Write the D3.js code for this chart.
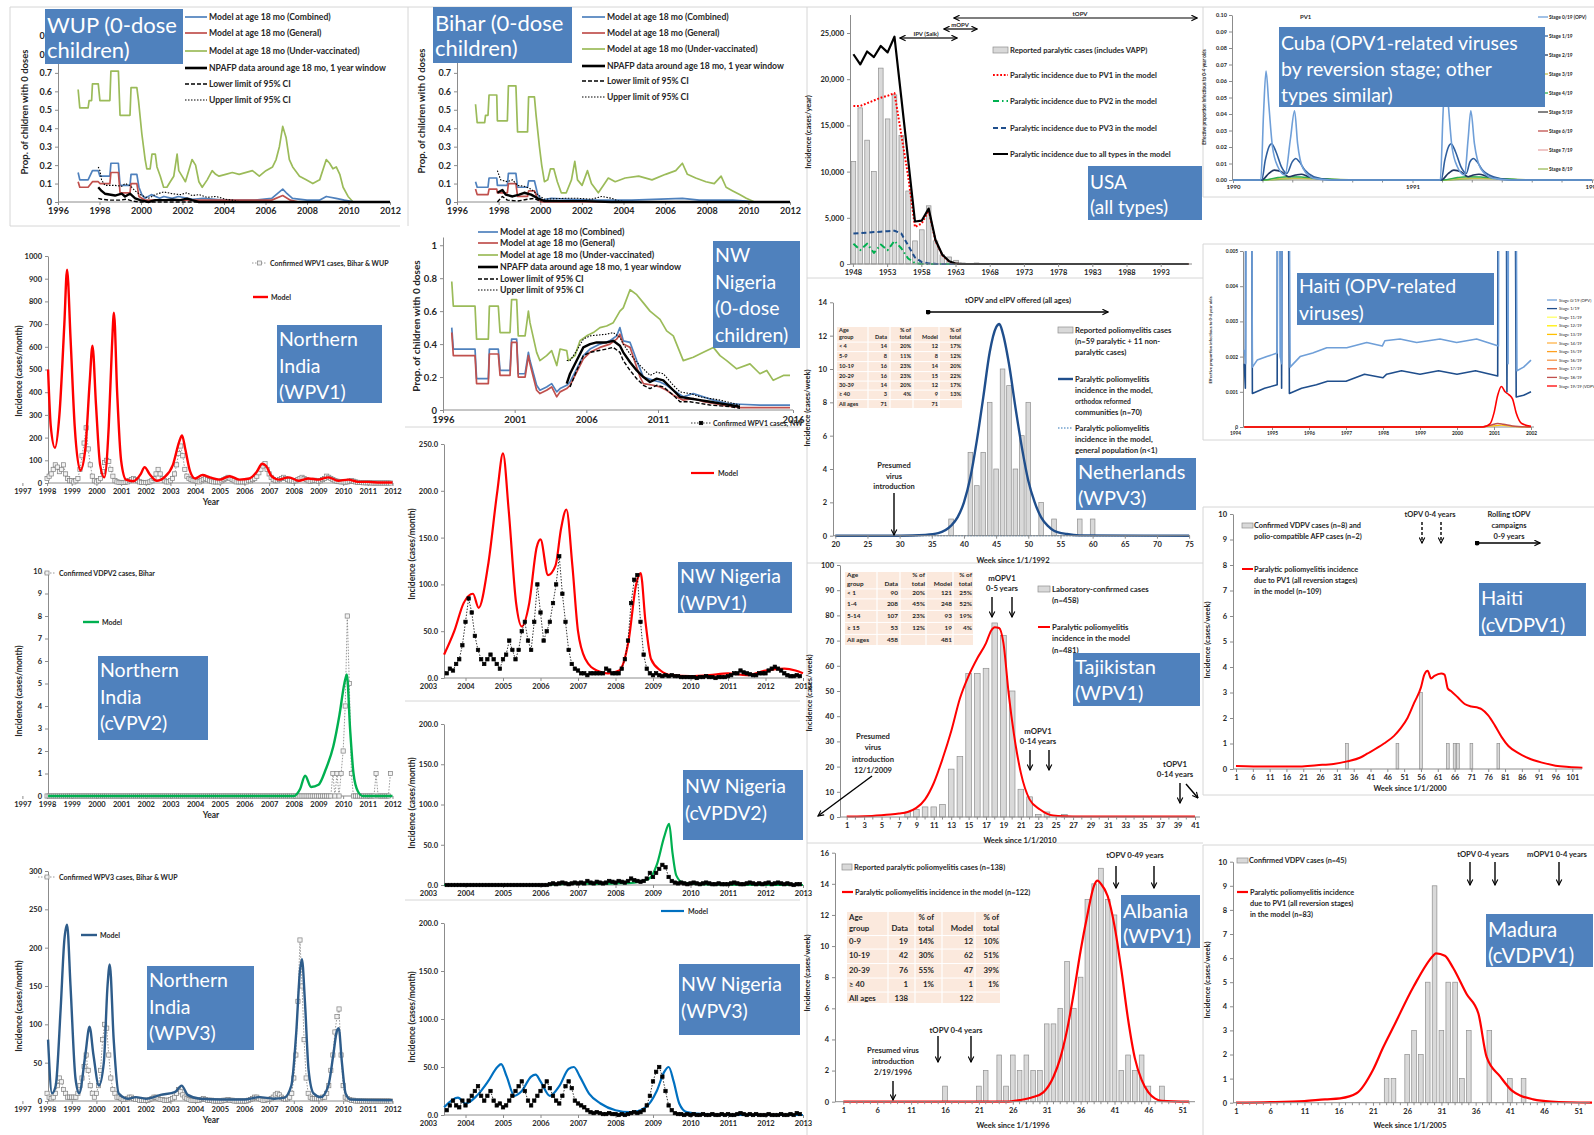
<!DOCTYPE html>
<html>
<head>
<meta charset="utf-8">
<script src="https://cdn.jsdelivr.net/npm/d3@7"></script>
<style>
  body { margin: 0; background: #fff; }
  svg { display: block; }
</style>
</head>
<body>
<script>
/* ================= data ================= */

// --- 0-dose panels (WUP, Bihar, NW Nigeria) ---
const doseLegend = ["Model at age 18 mo (Combined)", "Model at age 18 mo (General)", "Model at age 18 mo (Under-vaccinated)",
  "NPAFP data around age 18 mo, 1 year window", "Lower limit of 95% CI", "Upper limit of 95% CI"];
const doseYears = [1996, 1998, 2000, 2002, 2004, 2006, 2008, 2010, 2012];
const doseTicks = [0, 0.1, 0.2, 0.3, 0.4, 0.5, 0.6, 0.7, 0.8, 0.9];
const biharTicks = [0, 0.1, 0.2, 0.3, 0.4, 0.5, 0.6, 0.7];

const wupUnder = [[1996.97,0.61],[1997.05,0.51],[1997.45,0.51],[1997.5,0.55],[1997.62,0.55],[1997.66,0.64],[1997.94,0.64],[1998.02,0.55],[1998.5,0.55],[1998.55,0.71],[1998.91,0.71],[1998.99,0.47],[1999.47,0.47],[1999.52,0.62],[1999.8,0.62],[1999.88,0.55],[2000.04,0.37],[2000.2,0.23],[2000.28,0.18],[2000.44,0.18],[2000.53,0.26],[2000.69,0.26],[2000.77,0.19],[2000.93,0.14],[2001.09,0.08],[2001.25,0.08],[2001.41,0.11],[2001.58,0.14],[2001.74,0.26],[2001.82,0.17],[2001.98,0.14],[2002.14,0.11],[2002.46,0.23],[2002.63,0.2],[2002.79,0.11],[2002.95,0.08],[2003.19,0.12],[2003.43,0.17],[2003.6,0.15],[2003.76,0.14],[2004.08,0.15],[2004.4,0.16],[2004.73,0.15],[2005.37,0.17],[2005.7,0.14],[2006.02,0.17],[2006.34,0.19],[2006.51,0.23],[2006.67,0.3],[2006.83,0.41],[2006.99,0.35],[2007.15,0.23],[2007.31,0.19],[2007.64,0.14],[2007.96,0.12],[2008.28,0.1],[2008.61,0.12],[2008.93,0.23],[2009.09,0.21],[2009.25,0.18],[2009.41,0.19],[2009.58,0.15],[2009.74,0.08],[2009.98,0.03],[2010.22,0],[2012,0]];
const wupComb = [[1996.97,0.16],[1997.05,0.12],[1997.45,0.12],[1997.66,0.17],[1997.94,0.17],[1998.02,0.14],[1998.5,0.14],[1998.55,0.21],[1998.91,0.21],[1998.99,0.09],[1999.47,0.09],[1999.52,0.15],[1999.8,0.15],[1999.9,0.08],[2000.04,0.04],[2000.2,0.02],[2000.5,0.04],[2000.9,0.02],[2001.1,0.03],[2001.5,0.02],[2001.8,0.03],[2002.5,0.015],[2003,0.02],[2004,0.01],[2005.5,0.01],[2006.3,0.02],[2006.83,0.07],[2007,0.05],[2007.3,0.02],[2008,0.01],[2008.6,0.01],[2008.93,0.03],[2009.4,0.02],[2009.8,0.01],[2010.3,0],[2012,0]];
const wupGen = [[1996.97,0.11],[1997.05,0.08],[1997.45,0.08],[1997.66,0.11],[1997.94,0.11],[1998.02,0.1],[1998.5,0.1],[1998.55,0.16],[1998.91,0.16],[1998.99,0.05],[1999.47,0.05],[1999.52,0.1],[1999.8,0.1],[1999.9,0.03],[2000.2,0.01],[2006.3,0.01],[2006.83,0.035],[2007.2,0.01],[2007.6,0],[2012,0]];
const wupData = [[1997.94,0.08],[1998.1,0.06],[1998.26,0.045],[1998.75,0.035],[1999.07,0.045],[1999.23,0.03],[1999.47,0.045],[1999.72,0.02],[1999.96,0.01],[2000.36,0],[2000.69,0.01],[2001.17,0.01],[2001.5,0.013],[2001.9,0.01],[2002.22,0.018],[2002.46,0.01],[2002.79,0],[2012,0]];
const wupLow = [[1997.94,0.02],[1998.1,0.015],[1998.5,0.01],[1998.99,0.01],[1999.3,0.015],[1999.6,0.005],[1999.96,0],[2003.43,0]];
const wupUp = [[1997.94,0.19],[1998.02,0.17],[1998.1,0.12],[1998.26,0.09],[1998.75,0.09],[1999.07,0.085],[1999.23,0.1],[1999.47,0.09],[1999.72,0.06],[1999.96,0.04],[2000.36,0.02],[2000.69,0.04],[2001.09,0.055],[2001.5,0.045],[2001.9,0.04],[2002.22,0.05],[2002.46,0.035],[2002.79,0.04],[2003.19,0.025],[2003.6,0.03],[2004.08,0.015],[2004.4,0.01],[2004.8,0]];

const biharUnder = [[1996.89,0.53],[1996.97,0.43],[1997.33,0.43],[1997.37,0.47],[1997.49,0.47],[1997.54,0.58],[1997.91,0.58],[1997.94,0.44],[1998.42,0.44],[1998.47,0.63],[1998.83,0.63],[1998.91,0.38],[1999.39,0.38],[1999.44,0.57],[1999.72,0.57],[1999.8,0.47],[1999.96,0.3],[2000.07,0.2],[2000.2,0.11],[2000.36,0.12],[2000.49,0.18],[2000.65,0.18],[2000.82,0.11],[2001.01,0.05],[2001.25,0.05],[2001.5,0.12],[2001.66,0.22],[2001.79,0.12],[2002.01,0.09],[2002.27,0.17],[2002.46,0.1],[2002.79,0.05],[2003.03,0.09],[2003.27,0.13],[2003.6,0.11],[2004.08,0.13],[2004.73,0.14],[2005.37,0.12],[2006.02,0.15],[2006.51,0.17],[2006.83,0.21],[2007.07,0.15],[2007.47,0.13],[2007.96,0.11],[2008.36,0.1],[2008.69,0.14],[2008.93,0.08],[2009.25,0.06],[2009.58,0.04],[2009.9,0.02],[2010.3,0],[2012,0]];
const biharComb = [[1996.89,0.11],[1996.97,0.08],[1997.49,0.08],[1997.54,0.13],[1997.91,0.13],[1997.94,0.09],[1998.42,0.09],[1998.47,0.155],[1998.83,0.155],[1998.91,0.08],[1999.39,0.08],[1999.44,0.115],[1999.72,0.115],[1999.88,0.04],[2000.07,0.01],[2000.53,0.02],[2001.5,0.015],[2002.79,0.01],[2004.4,0.01],[2006.83,0.02],[2007.64,0.01],[2009.25,0.01],[2009.9,0.005],[2010.3,0],[2012,0]];
const biharGen = [[1996.89,0.07],[1996.97,0.04],[1997.49,0.04],[1997.54,0.07],[1997.91,0.07],[1997.94,0.05],[1998.42,0.05],[1998.47,0.1],[1998.83,0.1],[1998.91,0.03],[1999.39,0.03],[1999.44,0.06],[1999.72,0.06],[1999.88,0.015],[2000.07,0],[2012,0]];
const biharData = [[1997.94,0.05],[1998.18,0.065],[1998.34,0.04],[1998.67,0.03],[1998.99,0.04],[1999.23,0.05],[1999.56,0.04],[1999.88,0.02],[2000.2,0.005],[2001.17,0.005],[2002.14,0.005],[2003.43,0],[2012,0]];
const biharLow = [[1997.94,0],[1998.18,0.03],[1998.42,0.01],[1998.91,0.005],[1999.39,0.015],[1999.72,0.02],[2000.04,0]];
const biharUp = [[1997.94,0.17],[1998.1,0.12],[1998.42,0.11],[1998.67,0.12],[1998.91,0.09],[1999.23,0.085],[1999.56,0.07],[1999.88,0.04],[2000.2,0.015],[2001.17,0.02],[2001.82,0.02],[2002.46,0.015],[2002.95,0.03],[2003.43,0.02],[2003.76,0.005],[2004.4,0]];

const nwDoseYears = [1996, 2001, 2006, 2011, 2016];
const nwDoseTicks = [0, 0.2, 0.4, 0.6, 0.8, 1];
const nwUnder = [[1996.5,0.78],[1996.59,0.63],[1997.83,0.63],[1997.92,0.43],[1998.59,0.43],[1998.65,0.63],[1999.16,0.63],[1999.26,0.47],[1999.83,0.47],[1999.92,0.67],[2000.21,0.67],[2000.3,0.45],[2000.69,0.45],[2000.88,0.6],[2000.97,0.53],[2001.35,0.35],[2001.54,0.3],[2001.92,0.33],[2002.21,0.36],[2002.5,0.27],[2002.69,0.37],[2003.07,0.36],[2003.16,0.3],[2003.54,0.33],[2003.83,0.42],[2004.21,0.45],[2004.59,0.47],[2004.97,0.5],[2005.35,0.51],[2005.73,0.53],[2006.11,0.6],[2006.3,0.62],[2006.69,0.73],[2007.07,0.7],[2007.45,0.65],[2007.83,0.6],[2008.4,0.55],[2008.78,0.48],[2009.16,0.45],[2009.73,0.3],[2010.3,0.32],[2010.88,0.35],[2011.45,0.38],[2011.83,0.33],[2012.21,0.3],[2012.78,0.25],[2013.54,0.28],[2014.11,0.22],[2014.5,0.24],[2014.87,0.18],[2015.45,0.21],[2015.83,0.21]];
const nwComb = [[1996.5,0.5],[1996.59,0.37],[1997.83,0.37],[1997.92,0.19],[1998.59,0.19],[1998.65,0.37],[1999.16,0.37],[1999.26,0.24],[1999.83,0.24],[1999.92,0.43],[2000.21,0.43],[2000.3,0.22],[2000.69,0.22],[2000.88,0.35],[2000.97,0.3],[2001.35,0.15],[2001.54,0.12],[2001.92,0.14],[2002.21,0.16],[2002.5,0.11],[2002.69,0.13],[2003.07,0.15],[2003.26,0.17],[2003.64,0.25],[2004.02,0.33],[2004.4,0.37],[2004.97,0.4],[2005.54,0.42],[2005.92,0.45],[2006.11,0.5],[2006.3,0.42],[2006.69,0.41],[2007.07,0.3],[2007.26,0.25],[2007.45,0.2],[2008.02,0.18],[2008.4,0.17],[2008.78,0.15],[2009.16,0.12],[2009.73,0.08],[2010.3,0.1],[2010.88,0.08],[2011.45,0.06],[2012.21,0.04],[2012.97,0.035],[2014.11,0.03],[2015.83,0.03]];
const nwGen = [[1996.5,0.47],[1996.59,0.33],[1997.83,0.33],[1997.92,0.16],[1998.59,0.16],[1998.65,0.34],[1999.16,0.34],[1999.26,0.21],[1999.83,0.21],[1999.92,0.41],[2000.21,0.41],[2000.3,0.2],[2000.69,0.2],[2000.88,0.33],[2000.97,0.28],[2001.35,0.12],[2001.54,0.1],[2001.92,0.12],[2002.21,0.14],[2002.5,0.08],[2002.69,0.11],[2003.07,0.13],[2003.26,0.15],[2003.64,0.23],[2004.02,0.31],[2004.4,0.35],[2004.97,0.38],[2005.54,0.4],[2005.92,0.43],[2006.11,0.46],[2006.3,0.4],[2006.69,0.38],[2007.07,0.26],[2007.26,0.2],[2007.45,0.16],[2008.02,0.15],[2008.4,0.14],[2008.78,0.12],[2009.16,0.09],[2009.73,0.06],[2010.3,0.07],[2010.88,0.05],[2011.45,0.04],[2012.21,0.025],[2012.97,0.015],[2015.83,0.015]];
const nwData = [[2003.07,0.16],[2003.26,0.22],[2003.64,0.3],[2004.02,0.38],[2004.4,0.4],[2004.78,0.41],[2005.35,0.41],[2005.73,0.42],[2006.11,0.39],[2006.3,0.35],[2006.69,0.29],[2007.07,0.24],[2007.45,0.2],[2007.83,0.17],[2008.21,0.19],[2008.59,0.18],[2009.16,0.12],[2009.54,0.08],[2010.11,0.07],[2010.69,0.06],[2011.26,0.05],[2011.83,0.04],[2012.4,0.03],[2012.97,0.02]];
const nwLow = [[2003.26,0.14],[2003.64,0.24],[2004.02,0.33],[2004.4,0.35],[2005.35,0.37],[2005.73,0.38],[2006.11,0.35],[2006.3,0.3],[2006.69,0.24],[2007.07,0.19],[2007.45,0.15],[2007.83,0.13],[2008.21,0.15],[2008.59,0.14],[2009.16,0.09],[2009.54,0.05],[2010.11,0.05],[2010.69,0.04],[2011.26,0.03],[2011.83,0.025],[2012.4,0.02],[2012.97,0.01]];
const nwUp = [[2003.07,0.3],[2003.26,0.3],[2003.64,0.36],[2004.02,0.43],[2004.4,0.45],[2005.35,0.46],[2005.73,0.47],[2006.11,0.44],[2006.3,0.4],[2006.69,0.34],[2007.07,0.29],[2007.45,0.25],[2007.83,0.21],[2008.21,0.23],[2008.59,0.22],[2009.16,0.15],[2009.54,0.11],[2010.11,0.1],[2010.69,0.08],[2011.26,0.07],[2011.83,0.06],[2012.4,0.045],[2012.97,0.03]];

// --- Northern India incidence (monthly cases from Jan 1998) ---
const indiaYears = [1997,1998,1999,2000,2001,2002,2003,2004,2005,2006,2007,2008,2009,2010,2011,2012];
const indiaStart = 1998;
const indiaWpv1Cases = [
  20,30,40,60,80,70,50,60,80,40,20,10,
  10,5,10,20,60,120,176,243,150,80,30,10,
  5,10,20,50,90,100,95,60,30,10,5,3,
  2,2,3,5,10,15,20,15,10,5,3,2,
  2,3,5,10,20,40,60,40,20,10,5,5,
  10,20,40,80,130,163,120,60,30,20,15,10,
  10,8,5,10,15,20,15,10,8,5,5,5,
  5,10,15,20,25,20,15,10,5,5,5,5,
  5,5,10,10,15,20,30,45,60,75,85,60,
  40,25,15,10,10,15,20,25,20,15,10,10,
  8,10,15,20,25,20,15,10,8,10,12,10,
  8,10,15,20,30,25,20,15,10,8,6,5,
  5,4,5,8,10,8,5,3,2,2,1,1,
  1,1,0,0,0,0,0,0,0,0,0,0];
const indiaWpv1Model = [[1998.04,500],[1998.15,250],[1998.32,155],[1998.5,300],[1998.7,700],[1998.81,940],[1998.95,640],[1999.12,250],[1999.35,55],[1999.55,150],[1999.73,450],[1999.84,605],[1999.98,350],[2000.15,80],[2000.32,25],[2000.5,250],[2000.63,600],[2000.71,750],[2000.84,400],[2001.0,100],[2001.2,15],[2001.5,8],[2001.8,40],[2001.95,70],[2002.15,40],[2002.45,10],[2002.75,25],[2003.1,80],[2003.35,180],[2003.47,210],[2003.6,150],[2003.8,50],[2004.0,20],[2004.3,35],[2004.6,25],[2005.0,15],[2005.4,30],[2005.8,15],[2006.2,20],[2006.5,50],[2006.72,85],[2006.88,75],[2007.1,30],[2007.4,15],[2007.8,25],[2008.2,10],[2008.6,20],[2009.0,15],[2009.4,25],[2009.8,10],[2010.2,15],[2010.6,5],[2011.0,5],[2011.5,2],[2012.0,2]];
const indiaCvpv2Cases = [
  0,0,0,0,0,0,0,0,0,0,0,0,
  0,0,0,0,0,0,0,0,0,0,0,0,
  0,0,0,0,0,0,0,0,0,0,0,0,
  0,0,0,0,0,0,0,0,0,0,0,0,
  0,0,0,0,0,0,0,0,0,0,0,0,
  0,0,0,0,0,0,0,0,0,0,0,0,
  0,0,0,0,0,0,0,0,0,0,0,0,
  0,0,0,0,0,0,0,0,0,0,0,0,
  0,0,0,0,0,0,0,0,0,0,0,0,
  0,0,0,0,0,0,0,0,0,0,0,0,
  0,0,0,0,0,0,0,0,0,0,0,0,
  0,0,0,0,0,0,0,1,0,1,0,1,
  2,4,8,5,1,0,0,0,0,0,0,0,
  0,0,0,0,1,0,0,0,0,0,0,1];
const indiaCvpv2Model = [[1998.04,0],[2008.0,0],[2008.25,0.3],[2008.46,0.9],[2008.7,0.4],[2009.0,0.5],[2009.3,1.2],[2009.6,2.2],[2009.85,3.6],[2010.05,5],[2010.15,5.4],[2010.28,3],[2010.42,1],[2010.6,0.2],[2010.8,0],[2012,0]];
const indiaWpv3Cases = [
  10,5,3,5,10,20,30,25,15,10,5,5,
  5,5,5,10,20,30,45,60,40,20,10,5,
  10,20,40,80,100,95,60,30,15,10,5,5,
  3,2,2,3,5,5,3,2,2,1,1,1,
  1,1,2,3,5,5,3,2,2,1,1,1,
  2,3,5,10,15,12,8,5,3,2,1,1,
  1,1,1,2,3,2,1,1,1,0,0,0,
  0,0,1,1,2,1,1,0,0,0,0,0,
  0,0,1,2,3,5,5,3,2,1,1,2,
  2,3,5,8,10,8,5,3,2,3,5,10,
  30,60,130,210,150,80,30,10,5,3,3,3,
  3,3,5,5,10,20,40,60,90,110,120,60,
  20,5,3,2,1,1,0,0,0,0,0,0,
  0,0,0,0,0,0,0,0,0,0,0,0];
const indiaWpv3Model = [[1998.04,80],[1998.2,10],[1998.35,20],[1998.55,120],[1998.7,210],[1998.81,230],[1998.95,150],[1999.15,30],[1999.3,10],[1999.55,60],[1999.72,97],[1999.88,60],[2000.1,20],[2000.3,50],[2000.45,150],[2000.54,178],[2000.7,80],[2000.9,10],[2001.3,3],[2001.6,5],[2002.0,3],[2002.6,8],[2003.2,12],[2003.45,20],[2003.7,8],[2004.2,3],[2005,2],[2006,2],[2006.6,5],[2007.2,3],[2007.6,4],[2007.9,20],[2008.1,90],[2008.25,170],[2008.33,185],[2008.45,130],[2008.6,40],[2008.8,10],[2009.1,5],[2009.4,20],[2009.6,60],[2009.75,92],[2009.82,95],[2009.95,50],[2010.1,10],[2010.3,2],[2012,1]];

// --- NW Nigeria incidence (monthly cases from mid-2003) ---
const nigeriaYears = [2003,2004,2005,2006,2007,2008,2009,2010,2011,2012,2013];
const nigeriaStart = 2003.5;
const nwWpv1Cases = [
  5,10,8,15,20,35,
  60,85,70,45,30,20,15,20,25,20,15,10,
  20,25,40,30,20,30,50,60,40,30,60,100,
  70,40,50,60,80,100,130,90,60,30,15,10,
  8,5,5,3,5,5,5,5,5,10,8,5,
  5,5,10,20,40,80,105,110,60,25,10,5,
  3,5,3,2,3,2,3,2,2,1,1,1,
  1,1,0,1,1,2,1,1,0,1,1,1,
  2,3,5,5,8,6,5,4,3,3,5,5,
  5,8,10,12,10,8,5,3,2,2,3,2];
const nwWpv1Model = [[2003.43,25],[2003.7,50],[2003.95,80],[2004.2,90],[2004.35,75],[2004.6,120],[2004.85,200],[2005.0,240],[2005.15,180],[2005.35,80],[2005.5,55],[2005.7,80],[2005.9,140],[2006.0,148],[2006.2,110],[2006.4,120],[2006.55,160],[2006.69,180],[2006.85,120],[2007.0,50],[2007.2,20],[2007.5,8],[2007.8,5],[2008.1,8],[2008.35,40],[2008.55,100],[2008.67,112],[2008.8,60],[2008.95,20],[2009.2,8],[2009.5,3],[2010,2],[2010.5,3],[2011,5],[2011.5,3],[2012,8],[2012.5,10],[2012.8,8],[2013,5]];
const nwCvdpv2Cases = [
  0,0,0,0,0,0,
  0,0,0,0,0,0,0,0,0,0,0,0,
  0,0,0,0,0,0,0,0,0,0,0,0,
  0,0,0,1,2,1,2,3,2,1,2,3,
  2,3,2,5,3,2,4,3,2,3,5,4,
  3,5,4,3,5,8,6,5,4,5,8,15,
  10,15,20,25,22,10,5,3,2,3,2,1,
  2,3,2,1,2,3,2,1,1,2,1,1,
  1,2,3,2,1,1,2,3,2,1,2,1,
  2,3,1,2,3,2,1,2,1,0,1,1];
const nwCvdpv2Model = [[2003.43,0],[2006.0,0],[2006.5,1],[2007.0,2],[2007.5,1.5],[2008.0,2],[2008.5,3],[2008.9,8],[2009.1,25],[2009.3,60],[2009.43,76],[2009.52,40],[2009.62,12],[2009.8,3],[2010.2,1],[2011,0.5],[2013,0]];
const nwWpv3Cases = [
  5,10,15,10,8,15,
  10,15,20,25,30,20,15,20,25,15,10,12,
  8,10,15,20,25,30,35,25,15,10,15,20,
  25,30,35,28,20,15,12,20,30,35,28,15,
  12,10,8,5,3,2,3,2,1,1,2,1,
  1,0,1,0,1,2,3,2,3,5,10,20,
  35,45,50,40,25,10,5,2,1,1,0,1,
  0,1,0,0,1,0,0,1,0,0,1,0,
  1,0,0,1,2,1,0,1,0,1,0,0,
  0,1,0,0,0,1,0,0,1,0,2,1];
const nwWpv3Model = [[2003.43,8],[2003.8,18],[2004.0,12],[2004.3,20],[2004.6,35],[2004.85,50],[2004.95,53],[2005.1,40],[2005.3,20],[2005.5,25],[2005.75,40],[2005.87,42],[2006.0,35],[2006.25,20],[2006.5,30],[2006.75,48],[2006.89,50],[2007.05,40],[2007.3,22],[2007.6,12],[2008.0,5],[2008.4,3],[2008.8,8],[2009.1,25],[2009.3,45],[2009.42,50],[2009.55,35],[2009.7,12],[2009.9,3],[2010.3,1],[2011,0],[2013,0]];

// --- USA (annual, 1948-1997) ---
const usaYears = d3.range(1948, 1998);
const usaTickYears = [1948,1953,1958,1963,1968,1973,1978,1983,1988,1993];
const usaReported = [11100,16900,13400,10000,21200,15700,18300,13900,7900,2500,3700,6300,2500,990,760,400,110,60,110,40,50,20,30,30,10,10,10,10,10,10,10,10,10,10,10,10,10,10,10,10,10,10,10,10,10,10,10,10,0,0];
const usaAll = [22700,21600,23000,22400,23600,22900,24600,18000,11300,4600,4700,6000,2600,1000,300,30,0,0,0,0,0,0,0,0,0,0,0,0,0,0,0,0,0,0,0,0,0,0,0,0,0,0,0,0,0,0,0,0,0,0];
const usaPV1 = [17100,17100,17400,17700,18000,18200,18500,14000,9500,4000,4400,5800,2500,950,250,20,0,0,0,0,0,0,0,0,0,0,0,0,0,0,0,0,0,0,0,0,0,0,0,0,0,0,0,0,0,0,0,0,0,0];
const usaPV2 = [2200,1500,2200,1200,2100,1500,2500,1700,600,100,0,0,0,0,0,0,0,0,0,0,0,0,0,0,0,0,0,0,0,0,0,0,0,0,0,0,0,0,0,0,0,0,0,0,0,0,0,0,0,0];
const usaPV3 = [3300,3350,3400,3450,3500,3550,3600,3300,2000,700,200,60,20,0,0,0,0,0,0,0,0,0,0,0,0,0,0,0,0,0,0,0,0,0,0,0,0,0,0,0,0,0,0,0,0,0,0,0,0,0];
const usaLegend = ["Reported paralytic cases (includes VAPP)", "Paralytic incidence due to PV1 in the model",
  "Paralytic incidence due to PV2 in the model", "Paralytic incidence due to PV3 in the model", "Paralytic incidence due to all types in the model"];

// --- Cuba (OPV1-related viruses by reversion stage) ---
const cubaLabels = ["Stage 0/19 (OPV)","Stage 1/19","Stage 2/19","Stage 3/19","Stage 4/19","Stage 5/19","Stage 6/19","Stage 7/19","Stage 8/19"];
const cubaColors = ["#6f9fd8","#2f5f9e","#1f3660","#c8c04a","#2fb050","#404040","#c0504d","#e8a8a8","#9bbb59"];
const cubaStage0 = [[1990,0],[1990.155,0],[1990.17,0.04],[1990.184,0.066],[1990.2,0.045],[1990.22,0.02],[1990.25,0.008],[1990.29,0.003],[1990.32,0.025],[1990.343,0.042],[1990.36,0.022],[1990.39,0.007],[1990.45,0.001],[1990.55,0],[1991.155,0],[1991.17,0.04],[1991.184,0.066],[1991.2,0.045],[1991.22,0.02],[1991.25,0.008],[1991.29,0.003],[1991.31,0.025],[1991.325,0.042],[1991.345,0.022],[1991.38,0.007],[1991.45,0.001],[1991.55,0],[1992,0]];
const cubaStage1 = [[1990,0],[1990.16,0],[1990.18,0.012],[1990.2,0.02],[1990.215,0.022],[1990.24,0.017],[1990.27,0.008],[1990.3,0.004],[1990.33,0.011],[1990.35,0.013],[1990.37,0.011],[1990.4,0.006],[1990.45,0.002],[1990.55,0],[1991.16,0],[1991.18,0.012],[1991.2,0.02],[1991.215,0.022],[1991.24,0.017],[1991.27,0.008],[1991.3,0.004],[1991.32,0.011],[1991.34,0.013],[1991.36,0.011],[1991.39,0.006],[1991.45,0.002],[1991.55,0],[1992,0]];
const cubaStage2 = [[1990,0],[1990.16,0],[1990.2,0.004],[1990.23,0.006],[1990.27,0.005],[1990.31,0.002],[1990.35,0.003],[1990.38,0.0035],[1990.42,0.002],[1990.5,0.0005],[1990.6,0],[1991.16,0],[1991.2,0.004],[1991.23,0.006],[1991.27,0.005],[1991.31,0.002],[1991.34,0.003],[1991.37,0.0035],[1991.42,0.002],[1991.5,0.0005],[1991.6,0],[1992,0]];
const cubaStage3 = [[1990,0],[1990.17,0],[1990.25,0.001],[1990.3,0.0012],[1990.38,0.001],[1990.5,0.0004],[1990.65,0],[1991.17,0],[1991.25,0.001],[1991.3,0.0012],[1991.38,0.001],[1991.5,0.0004],[1991.65,0],[1992,0]];
const cubaStage4 = [[1990,0],[1990.17,0],[1990.25,0.0015],[1990.3,0.002],[1990.38,0.0018],[1990.5,0.0008],[1990.65,0],[1991.17,0],[1991.25,0.0015],[1991.3,0.002],[1991.38,0.0018],[1991.5,0.0008],[1991.65,0],[1992,0]];
const cubaStage8 = [[1990,0],[1990.2,0],[1990.32,0.0008],[1990.45,0.0009],[1990.6,0.0003],[1990.75,0],[1991.2,0],[1991.32,0.0008],[1991.45,0.0009],[1991.6,0.0003],[1991.75,0],[1992,0]];
const cubaYears = [1990, 1991, 1992];
const cubaTicks = [0,0.01,0.02,0.03,0.04,0.05,0.06,0.07,0.08,0.09,0.1];

// --- Haiti OPV-related viruses ---
const haitiLabels = ["Stage 0/19 (OPV)","Stage 1/19","Stage 11/19","Stage 12/19","Stage 13/19","Stage 14/19","Stage 15/19","Stage 16/19","Stage 17/19","Stage 18/19","Stage 19/19 (VDPV)"];
const haitiColors = ["#6f9fd8","#1f4e8c","#ffff66","#ffee00","#ffc000","#ffb347","#ffa020","#f79646","#f06030","#c0504d","#ff0000"];
const haitiYears = [1994,1995,1996,1997,1998,1999,2000,2001,2002];
const haitiTicks = [0,0.001,0.002,0.003,0.004,0.005];
const haitiStage0 = [[1994.25,0.0022],[1994.29,0.0018],[1994.32,0.02],[1994.4,0.02],[1994.47,0.0017],[1994.6,0.0019],[1994.86,0.002],[1995.14,0.0021],[1995.17,0.02],[1995.22,0.002],[1995.26,0.0018],[1995.3,0.02],[1995.4,0.02],[1995.49,0.0017],[1995.76,0.002],[1996.1,0.0021],[1996.48,0.00225],[1997.02,0.00225],[1997.56,0.0024],[1997.98,0.0023],[1998.05,0.00245],[1998.46,0.0025],[1998.91,0.0024],[1999.54,0.0025],[1999.99,0.0024],[2000.53,0.0025],[2001.12,0.0023],[2001.15,0.02],[2001.3,0.02],[2001.38,0.0018],[2001.42,0.02],[2001.55,0.02],[2001.62,0.0016],[2001.8,0.0017],[2002,0.0019]];
const haitiStage1 = [[1994.25,0.0018],[1994.28,0.0011],[1994.31,0.02],[1994.4,0.02],[1994.47,0.00095],[1994.8,0.0011],[1995.14,0.0012],[1995.16,0.02],[1995.2,0.02],[1995.26,0.0011],[1995.3,0.02],[1995.38,0.02],[1995.47,0.00095],[1995.8,0.0011],[1996.2,0.0012],[1996.5,0.0013],[1997,0.0013],[1997.5,0.0015],[1998,0.0014],[1998.1,0.0015],[1998.5,0.0016],[1999,0.0015],[1999.5,0.0016],[2000,0.0015],[2000.5,0.0016],[2001.1,0.00145],[2001.13,0.02],[2001.3,0.02],[2001.35,0.001],[2001.4,0.02],[2001.52,0.02],[2001.6,0.00085],[2001.8,0.0009],[2002,0.001]];
const haitiStage18 = [[1994.25,0],[2000.6,0],[2000.9,0.00005],[2001.1,0.0001],[2001.25,0.00008],[2001.5,0.00003],[2002,0]];
const haitiStage19 = [[1994.25,0],[2000.7,0],[2000.9,0.0001],[2001.0,0.0004],[2001.1,0.0009],[2001.2,0.00115],[2001.3,0.001],[2001.4,0.00092],[2001.5,0.0008],[2001.6,0.0004],[2001.75,0.0001],[2002,0.00002]];
const haitiLow = [[1994.25,0],[2000.5,0],[2000.95,0.00003],[2001.2,0.00005],[2001.5,0.00002],[2002,0]];

// --- weekly outbreak panels ---
const ageHeader = [["Age","","% of","","% of"],["group","Data","total","Model","total"]];
const nlWeeks = [20,25,30,35,40,45,50,55,60,65,70,75];
const nlCases = [[38,1],[41,5],[42,3],[43,5],[44,8],[45,4],[46,10],[47,9],[48,4],[49,6],[50,8],[52,2],[54,1],[58,1],[60,1]];
const nlModel = [[20,0],[30,0],[34,0.05],[36,0.15],[38,0.6],[39,1.1],[40,2],[41,3.5],[42,5.7],[43,8.3],[44,11],[45,12.5],[45.5,12.7],[46,12.2],[47,10.3],[48,7.7],[49,5.3],[50,3.3],[51,2],[52,1.1],[53,0.6],[54,0.3],[56,0.1],[58,0.02],[75,0]];
const nlGeneral = [[20,0],[75,0]];
const nlTable = [["< 4","14","20%","12","17%"],["5-9","8","11%","8","12%"],["10-19","16","23%","14","20%"],["20-29","16","23%","15","22%"],["30-39","14","20%","12","17%"],["\u2265 40","3","4%","9","13%"],["All ages","71","","71",""]];

const tjWeeks = [1,3,5,7,9,11,13,15,17,19,21,23,25,27,29,31,33,35,37,39,41];
const tjCases = [[8,2],[9,3],[10,4],[11,4],[12,5],[13,19],[14,24],[15,57],[16,57],[17,59],[18,77],[19,72],[20,50],[21,11],[22,8],[23,1],[24,2],[26,1]];
const tjModel = [[1,0.2],[3,0.3],[5,0.7],[6,1],[7,1.4],[8,2],[9,3.6],[10,7],[11,13.5],[12,23],[13,34],[14,47],[15,56],[16,63],[17,69],[17.6,74],[18,75.3],[18.5,75],[19,69],[19.6,49],[20.2,33],[21,17.5],[22,7],[23.2,3],[24.7,0.6],[26,0.3],[28,0.2],[41,0.2]];
const tjTable = [["< 1","90","20%","121","25%"],["1-4","208","45%","248","52%"],["5-14","107","23%","93","19%"],["\u2265 15","53","12%","19","4%"],["All ages","458","","481",""]];

const alWeeks = [1,6,11,16,21,26,31,36,41,46,51];
const alCases = [[16,1],[21,1],[22,2],[24,3],[25,1],[26,3],[27,2],[28,3],[29,2],[30,2],[31,5],[32,5],[33,6],[34,9],[35,6],[36,8],[37,13],[38,14],[39,15],[40,13],[41,12],[42,2],[43,3],[44,2],[45,3],[46,1],[48,1]];
const alModel = [[1,0],[25,0],[27,0.1],[29,0.3],[30.5,0.6],[32,1.6],[33,2.8],[34,4.6],[35,7],[36,9.7],[37,12],[38,13.9],[38.5,14.2],[39,14],[40,13.2],[41,11.3],[42,8.5],[43,5.3],[44,2.8],[45,1.4],[46,0.6],[47,0.2],[48,0.05],[52,0]];
const alTable = [["0-9","19","14%","12","10%"],["10-19","42","30%","62","51%"],["20-39","76","55%","47","39%"],["\u2265 40","1","1%","1","1%"],["All ages","138","","122",""]];

const htWeeks = [1,6,11,16,21,26,31,36,41,46,51,56,61,66,71,76,81,86,91,96,101];
const htCases = [[34,1],[49,1],[56,3],[64,1],[66,1],[67,1],[71,1],[79,1]];
const htModel = [[1,0.12],[10,0.1],[20,0.1],[25,0.15],[30,0.2],[34,0.3],[38,0.45],[40,0.6],[45,1],[48,1.3],[50,1.6],[52,2],[54,2.6],[56,3.2],[57,3.7],[58,3.85],[59,3.55],[60,3.65],[62,3.75],[63,3.7],[64,3.15],[65,3.05],[67,2.8],[69,2.55],[71,2.45],[73,2.4],[74,2.35],[76,2.1],[78,1.7],[80,1.25],[82,0.9],[85,0.62],[88,0.42],[92,0.25],[96,0.13],[100,0.08],[104,0.05]];

const mdWeeks = [1,6,11,16,21,26,31,36,41,46,51];
const mdCases = [[23,1],[24,1],[26,2],[27,3],[28,2],[29,5],[30,9],[31,3],[32,5],[33,5],[34,1],[35,3],[38,3],[41,1],[43,1]];
const mdModel = [[1,0],[6,0.02],[11,0.07],[14,0.14],[16.2,0.18],[18.6,0.39],[21,1.36],[22.5,2.3],[24,3.15],[26.9,4.8],[29.8,6.1],[30.2,6.2],[31.5,6.1],[32.7,5.6],[34.7,4.5],[36.4,3.7],[37.6,1.9],[39.6,1.08],[41.3,0.5],[42.5,0.3],[44.4,0.14],[47,0.05],[53,0]];

/* ================= drawing helpers ================= */
const FONT = "Lato, 'Open Sans', sans-serif";
const AX = "#8c8c8c";
const BOX = "#4F81BD";
const svg = d3.select("body").append("svg").attr("width", 1594).attr("height", 1135).style("font-family", FONT);
svg.append("rect").attr("width", 1594).attr("height", 1135).attr("fill", "#fff");
const defs = svg.append("defs");
defs.append("marker").attr("id", "ah").attr("viewBox", "0 0 10 10").attr("refX", 9).attr("refY", 5)
  .attr("markerWidth", 7).attr("markerHeight", 7).attr("markerUnits", "userSpaceOnUse").attr("orient", "auto-start-reverse")
  .append("path").attr("d", "M1,1L9,5L1,9").attr("fill", "none").attr("stroke", "#000").attr("stroke-width", 1.6);
defs.append("marker").attr("id", "dot").attr("viewBox", "0 0 10 10").attr("refX", 5).attr("refY", 5)
  .attr("markerWidth", 5).attr("markerHeight", 5).attr("markerUnits", "userSpaceOnUse")
  .append("circle").attr("cx", 5).attr("cy", 5).attr("r", 5).attr("fill", "#000");

const monthly = (start, vals) => vals.map((v, i) => [start + i / 12, v]);

function panel(xd, xr, yd, yr) {
  return { x: d3.scaleLinear().domain(xd).range(xr), y: d3.scaleLinear().domain(yd).range(yr) };
}

function styleAxis(g, fs) {
  g.attr("font-family", FONT);
  g.select(".domain").attr("stroke", AX);
  g.selectAll(".tick line").attr("stroke", AX);
  g.selectAll("text").attr("font-size", fs).attr("font-weight", 700).attr("fill", "#262626");
}

function yAxis(p, xPos, ticks, fmt, fs, pad) {
  const g = svg.append("g").attr("transform", `translate(${xPos},0)`)
    .call(d3.axisLeft(p.y).tickValues(ticks).tickFormat(fmt).tickSize(3).tickSizeOuter(0).tickPadding(pad == null ? 3 : pad));
  styleAxis(g, fs);
}

function xAxis(p, yPos, ticks, fmt, fs, from, to, pad) {
  const g = svg.append("g").attr("transform", `translate(0,${yPos})`)
    .call(d3.axisBottom(p.x).tickValues(ticks).tickFormat(fmt).tickSize(3).tickSizeOuter(0).tickPadding(pad == null ? 3 : pad));
  g.select(".domain").remove();
  g.append("line").attr("x1", from).attr("x2", to).attr("stroke", AX);
  styleAxis(g, fs);
}

function minorTicks(p, yPos, vals) {
  svg.append("g").selectAll("line").data(vals).join("line")
    .attr("x1", d => p.x(d)).attr("x2", d => p.x(d)).attr("y1", yPos).attr("y2", yPos + 2.5).attr("stroke", AX);
}

function plotLine(p, data, color, w, dash, curve, clip) {
  const gen = d3.line().x(d => p.x(d[0])).y(d => p.y(d[1])).curve(curve || d3.curveLinear);
  return svg.append("path").datum(data).attr("d", gen).attr("fill", "none").attr("stroke", color)
    .attr("stroke-width", w).attr("stroke-dasharray", dash || null).attr("stroke-linejoin", "round")
    .attr("clip-path", clip ? `url(#${clip})` : null);
}

function plotSquares(p, data, size, fill, stroke) {
  svg.append("g").selectAll("rect").data(data).join("rect")
    .attr("x", d => p.x(d[0]) - size / 2).attr("y", d => p.y(d[1]) - size / 2)
    .attr("width", size).attr("height", size).attr("fill", fill).attr("stroke", stroke).attr("stroke-width", 0.7);
}

function plotBars(p, data, frac) {
  const bw = (p.x(1) - p.x(0)) * frac;
  svg.append("g").selectAll("rect").data(data).join("rect")
    .attr("x", d => p.x(d[0]) - bw / 2).attr("y", d => p.y(d[1]))
    .attr("width", bw).attr("height", d => p.y(0) - p.y(d[1]))
    .attr("fill", "#d9d9d9").attr("stroke", "#8f8f8f").attr("stroke-width", 0.7);
}

function clipRect(id, x, y, w, h) {
  defs.append("clipPath").attr("id", id).append("rect").attr("x", x).attr("y", y).attr("width", w).attr("height", h);
}

function txt(x, y, s, o) {
  o = o || {};
  const t = svg.append("text").attr("x", x).attr("y", y).text(s)
    .attr("font-size", o.fs || 7.5).attr("font-weight", o.fw || 700)
    .attr("fill", o.fill || "#262626").attr("text-anchor", o.anchor || "start");
  if (o.rot) t.attr("transform", `rotate(${o.rot},${x},${y})`);
  return t;
}

function yTitle(x, y, s, fs) { txt(x, y, s, { fs: fs, anchor: "middle", rot: -90 }); }

function labelBox(x, y, w, h, lines, fs, b0, lh) {
  svg.append("rect").attr("x", x).attr("y", y).attr("width", w).attr("height", h).attr("fill", BOX);
  lines.forEach((s, i) => txt(x + 2, y + b0 + i * lh, s, { fs: fs, fw: 400, fill: "#fff" }));
}

function legLine(x1, x2, y, color, w, dash) {
  svg.append("line").attr("x1", x1).attr("x2", x2).attr("y1", y).attr("y2", y)
    .attr("stroke", color).attr("stroke-width", w).attr("stroke-dasharray", dash || null);
}

function legBar(x, y, w, h) {
  svg.append("rect").attr("x", x).attr("y", y).attr("width", w).attr("height", h)
    .attr("fill", "#d9d9d9").attr("stroke", "#8f8f8f").attr("stroke-width", 0.7);
}

function legMarker(x1, x2, y, fill, stroke, size) {
  legLine(x1, x2, y, stroke, 0.8, "1.5,1.5");
  svg.append("rect").attr("x", (x1 + x2) / 2 - size / 2).attr("y", y - size / 2).attr("width", size).attr("height", size)
    .attr("fill", fill).attr("stroke", stroke).attr("stroke-width", 0.7);
}

function arrow(x1, y1, x2, y2, o) {
  o = o || {};
  svg.append("line").attr("x1", x1).attr("y1", y1).attr("x2", x2).attr("y2", y2)
    .attr("stroke", "#000").attr("stroke-width", o.w || 1.4).attr("stroke-dasharray", o.dash || null)
    .attr("marker-end", "url(#ah)").attr("marker-start", o.start ? `url(#${o.start})` : null);
}

function ageTable(x, y, w, h, seps, rights, rowYs, rows, fs) {
  svg.append("rect").attr("x", x).attr("y", y).attr("width", w).attr("height", h).attr("fill", "#fbe9dd");
  seps.forEach(sx => svg.append("line").attr("x1", sx).attr("x2", sx).attr("y1", y).attr("y2", y + h).attr("stroke", "#fff").attr("stroke-width", 1.2));
  for (let i = 2; i < rowYs.length; i++) {
    const ly = (rowYs[i] + rowYs[i - 1]) / 2 - fs * 0.25;
    svg.append("line").attr("x1", x).attr("x2", x + w).attr("y1", ly).attr("y2", ly).attr("stroke", "#fff").attr("stroke-width", 1);
  }
  rows.forEach((r, i) => r.forEach((s, j) => {
    if (j === 0) txt(x + 2, rowYs[i], s, { fs: fs });
    else txt(rights[j - 1], rowYs[i], s, { fs: fs, anchor: "end" });
  }));
}

function border(x1, y1, x2, y2) {
  svg.append("line").attr("x1", x1).attr("y1", y1).attr("x2", x2).attr("y2", y2).attr("stroke", "#d6d6d6").attr("stroke-width", 1);
}

/* ================= panel borders ================= */
border(10, 7, 1594, 7);
border(10, 7, 10, 226); border(10, 226, 400, 226);
border(408, 7, 408, 226);
border(807, 7, 807, 1135);
border(1203, 7, 1203, 197); border(1203, 197, 1594, 197);
border(1203, 244, 1594, 244); border(1203, 244, 1203, 440); border(1203, 440, 1594, 440);
border(1203, 507, 1594, 507); border(1203, 507, 1203, 795); border(1203, 795, 1594, 795);
border(1203, 845, 1594, 845); border(1203, 845, 1203, 1135);
border(807, 278, 1203, 278); border(807, 563, 1203, 563); border(807, 843, 1203, 843);
border(405, 427, 800, 427); border(405, 701, 800, 701); border(405, 900, 800, 900);

/* ================= 0-dose panels ================= */
function dosePanel(p, series) {
  const [comb, gen, under, data, low, up] = series;
  plotLine(p, under, "#9bbb59", 1.7);
  plotLine(p, comb, "#4f81bd", 1.7);
  plotLine(p, gen, "#c0504d", 1.7);
  plotLine(p, low, "#000", 1.4, "4,2");
  plotLine(p, up, "#000", 1.1, "1.5,1.5");
  plotLine(p, data, "#000", 2.4);
}
function doseLegendAt(x1, x2, ys, fs) {
  const st = [["#4f81bd", 1.7], ["#c0504d", 1.7], ["#9bbb59", 1.7], ["#000", 2.6], ["#000", 1.6, "4,2"], ["#000", 1.1, "1.5,1.5"]];
  doseLegend.forEach((s, i) => {
    legLine(x1, x2, ys[i], st[i][0], st[i][1], st[i][2]);
    txt(x2 + 2, ys[i] + 3, s, { fs: fs });
  });
}

// WUP
const pWup = panel([1996, 2012], [58, 390], [0, 0.9], [202, 36]);
yAxis(pWup, 58, doseTicks, d3.format("~g"), 9);
xAxis(pWup, 202, doseYears, d3.format("d"), 9, 58, 390);
dosePanel(pWup, [wupComb, wupGen, wupUnder, wupData, wupLow, wupUp]);
yTitle(28, 112, "Prop. of children with 0 doses", 9.5);
doseLegendAt(185, 207, [17, 33, 51, 68, 84, 100], 8.6);
labelBox(45, 9, 138, 55, ["WUP (0-dose", "children)"], 22, 24, 25);

// Bihar
const pBihar = panel([1996, 2012], [457, 790], [0, 0.9], [202, 36]);
yAxis(pBihar, 457, biharTicks, d3.format("~g"), 9);
xAxis(pBihar, 202, doseYears, d3.format("d"), 9, 457, 790);
dosePanel(pBihar, [biharComb, biharGen, biharUnder, biharData, biharLow, biharUp]);
yTitle(425, 111, "Prop. of children with 0 doses", 9.5);
doseLegendAt(582, 605, [17, 33, 49, 66, 81, 97], 8.6);
labelBox(433, 7, 139, 56, ["Bihar (0-dose", "children)"], 22, 24, 25);

// NW Nigeria 0-dose (the source axis places its year labels unevenly; a separate label scale keeps them where they are)
const pNwDose = panel([1996, 2016], [443, 793], [0, 1.05], [410, 237]);
const nwDoseLabelScale = { x: d3.scaleLinear().domain([1996, 2011, 2016]).range([443, 658, 793]) };
yAxis(pNwDose, 443, nwDoseTicks, d3.format("~g"), 9.5);
xAxis(nwDoseLabelScale, 410, nwDoseYears, d3.format("d"), 9.5, 443, 793);
dosePanel(pNwDose, [nwComb, nwGen, nwUnder, nwData, nwLow, nwUp]);
yTitle(420, 326, "Prop. of children with 0 doses", 10);
doseLegendAt(478, 498, [232, 243, 255, 267, 279, 290], 8.8);
labelBox(713, 241, 87, 107, ["NW", "Nigeria", "(0-dose", "children)"], 19.5, 21, 26.5);

/* ================= Northern India ================= */
function indiaPanel(y0, yTop, yMax, yTicks, cases, model, color, legName, legY, modelLeg, box, titleY) {
  const p = panel([1997, 2012], [22.4, 392.5], [0, yMax], [y0, yTop]);
  yAxis(p, 48, yTicks, d3.format("d"), 7.5);
  xAxis(p, y0, indiaYears, d3.format("d"), 7.5, 48, 392);
  const pts = monthly(indiaStart, cases);
  plotLine(p, pts, "#7f7f7f", 0.8, "1.5,1.5");
  plotSquares(p, pts, 4.2, "#f2f2f2", "#7f7f7f");
  plotLine(p, model, color, 2.4, null, d3.curveMonotoneX);
  yTitle(22, titleY, "Incidence (cases/month)", 8.5);
  txt(211, y0 + 22, "Year", { fs: 8.5, anchor: "middle" });
  legMarker(legY[0], legY[1], legY[2], "#f2f2f2", "#7f7f7f", 4);
  txt(legY[1] + 3, legY[2] + 2.5, legName, { fs: 7 });
  legLine(modelLeg[0], modelLeg[1], modelLeg[2], color, 2.4);
  txt(modelLeg[1] + 3, modelLeg[2] + 2.5, "Model", { fs: 7 });
  labelBox(box[0], box[1], box[2], box[3], box[4], 19.5, 21, 26.5);
}
indiaPanel(483, 256, 1000, [0,100,200,300,400,500,600,700,800,900,1000], indiaWpv1Cases, indiaWpv1Model, "#ff0000",
  "Confirmed WPV1 cases, Bihar & WUP", [252, 267, 263], [253, 268, 297],
  [277, 325, 105, 78, ["Northern", "India", "(WPV1)"]], 371);
indiaPanel(796, 571, 10, [0,1,2,3,4,5,6,7,8,9,10], indiaCvpv2Cases, indiaCvpv2Model, "#00b050",
  "Confirmed VDPV2 cases, Bihar", [38, 56, 573], [83, 99, 622],
  [98, 656, 110, 84, ["Northern", "India", "(cVPV2)"]], 691);
indiaPanel(1101, 871, 300, [0,50,100,150,200,250,300], indiaWpv3Cases, indiaWpv3Model, "#2e5c8a",
  "Confirmed WPV3 cases, Bihar & WUP", [38, 56, 877], [81, 97, 935],
  [147, 966, 107, 84, ["Northern", "India", "(WPV3)"]], 1006);

/* ================= NW Nigeria incidence ================= */
function nigeriaPanel(y0, yTop, yMax, yTicks, cases, model, color, box, titleY) {
  const p = panel([2003, 2013], [428, 803], [0, yMax], [y0, yTop]);
  yAxis(p, 444, yTicks, d3.format(".1f"), 7.5);
  xAxis(p, y0, nigeriaYears, d3.format("d"), 7.5, 444, 800);
  plotLine(p, model, color, 2.2, null, d3.curveMonotoneX);
  const pts = monthly(nigeriaStart, cases);
  plotLine(p, pts, "#000", 0.8, "1.5,1.5");
  plotSquares(p, pts, 3.4, "#000", "#000");
  yTitle(415, titleY, "Incidence (cases/month)", 8.5);
  labelBox(box[0], box[1], box[2], box[3], box[4], 19.5, box[5], 26.5);
}
nigeriaPanel(678, 444, 250, [0,50,100,150,200,250], nwWpv1Cases, nwWpv1Model, "#ff0000",
  [678, 562, 114, 51, ["NW Nigeria", "(WPV1)"], 21], 554);
nigeriaPanel(885, 724, 200, [0,50,100,150,200], nwCvdpv2Cases, nwCvdpv2Model, "#00b050",
  [683, 770, 120, 70, ["NW Nigeria", "(cVPDV2)"], 23], 803);
nigeriaPanel(1115, 923, 200, [0,50,100,150,200], nwWpv3Cases, nwWpv3Model, "#0070c0",
  [679, 964, 121, 71, ["NW Nigeria", "(WPV3)"], 27], 1017);
legMarker(691, 711, 423, "#000", "#000", 3.4);
txt(713, 425.5, "Confirmed WPV1 cases, NW", { fs: 7 });
legLine(691, 714, 473, "#ff0000", 2.2); txt(718, 475.5, "Model", { fs: 7 });
legLine(661, 684, 911, "#0070c0", 2.2); txt(688, 913.5, "Model", { fs: 7 });

/* ================= USA ================= */
const usaX = d3.scaleBand().domain(usaYears).range([850, 1192]).paddingInner(0.32).paddingOuter(0.16);
const usaY = d3.scaleLinear().domain([0, 27000]).range([264, 264 - 27000 * 231 / 25000]);
const usaCx = yr => usaX(yr) + usaX.bandwidth() / 2;
svg.append("g").selectAll("rect").data(usaYears).join("rect")
  .attr("x", d => usaX(d)).attr("y", (d, i) => usaY(usaReported[i])).attr("width", usaX.bandwidth())
  .attr("height", (d, i) => usaY(0) - usaY(usaReported[i])).attr("fill", "#d9d9d9").attr("stroke", "#8f8f8f").attr("stroke-width", 0.7);
function usaLine(vals, color, w, dash) {
  svg.append("path").datum(vals).attr("d", d3.line().x((d, i) => usaCx(usaYears[i])).y(d => usaY(d)))
    .attr("fill", "none").attr("stroke", color).attr("stroke-width", w).attr("stroke-dasharray", dash || null).attr("stroke-linejoin", "round");
}
usaLine(usaPV2, "#00b050", 2, "6,3,1.5,3");
usaLine(usaPV3, "#1f4e8c", 2, "5,3");
usaLine(usaPV1, "#ff0000", 2, "1.8,1.8");
usaLine(usaAll, "#000", 2.2);
{
  const g = svg.append("g").attr("transform", "translate(850,0)")
    .call(d3.axisLeft(usaY).tickValues([0, 5000, 10000, 15000, 20000, 25000]).tickFormat(d3.format(",")).tickSize(3).tickSizeOuter(0));
  styleAxis(g, 7.5);
  const gx = svg.append("g").attr("transform", "translate(0,264)")
    .call(d3.axisBottom(usaX).tickValues(usaTickYears).tickSize(3).tickSizeOuter(0));
  gx.select(".domain").remove();
  gx.append("line").attr("x1", 850).attr("x2", 1192).attr("stroke", AX);
  styleAxis(gx, 7.5);
}
yTitle(811, 132, "Incidence (cases/year)", 7.5);
arrow(1080, 18, 1197, 18, { w: 1.2 }); arrow(1080, 18, 954, 18, { w: 1.2 });
txt(1080, 16, "tOPV", { fs: 6, anchor: "middle" });
arrow(960, 29, 977, 29, { w: 1.2 }); arrow(960, 29, 944, 29, { w: 1.2 });
txt(960, 27, "mOPV", { fs: 6, anchor: "middle" });
arrow(928, 38, 957, 38, { w: 1.2 }); arrow(928, 38, 900, 38, { w: 1.2 });
txt(926, 35.5, "IPV (Salk)", { fs: 6, anchor: "middle" });
legBar(993, 47, 15, 6); txt(1010, 52.5, usaLegend[0], { fs: 7.6 });
[["#ff0000", "1.8,1.8"], ["#00b050", "6,3,1.5,3"], ["#1f4e8c", "5,3"], ["#000", null]].forEach((s, i) => {
  const y = [75, 101, 128, 154][i];
  legLine(993, 1008, y, s[0], 2, s[1]);
  txt(1010, y + 2.8, usaLegend[i + 1], { fs: 7.6 });
});
labelBox(1088, 166, 114, 54, ["USA", "(all types)"], 19, 23, 25);

/* ================= Cuba ================= */
const pCuba = panel([1990, 1992], [1233, 1592], [0, 0.1], [180, 15]);
yAxis(pCuba, 1232, cubaTicks, d3.format(".2f"), 5.5, 2);
xAxis(pCuba, 180, cubaYears, d3.format("d"), 6, 1232, 1594, 2);
minorTicks(pCuba, 180, [1990.167,1990.333,1990.5,1990.667,1990.833,1991.167,1991.333,1991.5,1991.667,1991.833]);
[cubaStage8, cubaStage3, cubaStage4].forEach((d, i) => plotLine(pCuba, d, [cubaColors[8], cubaColors[3], cubaColors[4]][i], 1.4, null, d3.curveMonotoneX));
plotLine(pCuba, cubaStage2, cubaColors[2], 1.6, null, d3.curveMonotoneX);
plotLine(pCuba, cubaStage1, cubaColors[1], 1.6, null, d3.curveMonotoneX);
plotLine(pCuba, cubaStage0, cubaColors[0], 1.6, null, d3.curveMonotoneX);
yTitle(1206, 97, "Effective proportion infectious to 0-4 year olds", 4.6);
txt(1300, 19, "PV1", { fs: 6 });
cubaLabels.forEach((s, i) => {
  const y = 17 + i * 19;
  legLine(1538, 1548, y, cubaColors[i], 1.3);
  txt(1549, y + 1.8, s, { fs: 4.8 });
});
labelBox(1279, 27, 266, 80, ["Cuba (OPV1-related viruses", "by reversion  stage; other", "types similar)"], 19.5, 23, 26);

/* ================= Haiti OPV-related ================= */
const pHaiti = panel([1994, 2002], [1235, 1531], [0, 0.005], [427, 251]);
clipRect("clipHaiti", 1235, 251, 300, 180);
yAxis(pHaiti, 1243, haitiTicks, d3.format(".3~f"), 4.8, 2);
xAxis(pHaiti, 427, haitiYears, d3.format("d"), 4.8, 1243, 1534, 2);
plotLine(pHaiti, haitiLow, haitiColors[4], 1.2, null, d3.curveMonotoneX, "clipHaiti");
plotLine(pHaiti, haitiStage18, haitiColors[9], 1.4, null, d3.curveMonotoneX, "clipHaiti");
plotLine(pHaiti, haitiStage19, haitiColors[10], 1.6, null, d3.curveMonotoneX, "clipHaiti");
plotLine(pHaiti, haitiStage1, haitiColors[1], 1.6, null, d3.curveLinear, "clipHaiti");
plotLine(pHaiti, haitiStage0, haitiColors[0], 1.6, null, d3.curveLinear, "clipHaiti");
yTitle(1212, 340, "Effective proportion infectious to 0-4 year olds", 4.2);
haitiLabels.forEach((s, i) => {
  const y = 300 + i * 8.6;
  legLine(1547, 1557, y, haitiColors[i], 1.3);
  txt(1559, y + 1.5, s, { fs: 4.2, fw: 400 });
});
labelBox(1297, 273, 197, 52, ["Haiti (OPV-related", "viruses)"], 19.5, 20, 27);

/* ================= Netherlands ================= */
const pNl = panel([20, 75], [835.3, 835.3 + 55 * 6.433], [0, 14], [535.7, 302.3]);
plotBars(pNl, nlCases, 0.72);
plotLine(pNl, nlGeneral, "#2e75b6", 1.2, "1.5,1.5");
plotLine(pNl, nlModel, "#1f4e8c", 2.4, null, d3.curveMonotoneX);
yAxis(pNl, 833, [0,2,4,6,8,10,12,14], d3.format("d"), 7.5);
xAxis(pNl, 535.7, nlWeeks, d3.format("d"), 7.5, 833, 1190);
yTitle(810, 408, "Incidence (cases/week)", 7.5);
txt(1013, 563, "Week since 1/1/1992", { fs: 7.5, anchor: "middle" });
txt(1018, 303, "tOPV and eIPV offered (all ages)", { fs: 7.5, anchor: "middle" });
arrow(928, 312, 1108, 312, { start: "dot" });
["Presumed", "virus", "introduction"].forEach((s, i) => txt(894, 468 + i * 10.5, s, { fs: 7.5, anchor: "middle" }));
arrow(894, 493, 894, 535);
legBar(1058, 327, 15, 6);
["Reported poliomyelitis cases", "(n=59 paralytic + 11 non-", "paralytic cases)"].forEach((s, i) => txt(1075, 332.5 + i * 11, s, { fs: 7.6 }));
legLine(1058, 1073, 379, "#1f4e8c", 2.4);
["Paralytic poliomyelitis", "incidence in the model,", "orthodox reformed", "communities (n=70)"].forEach((s, i) => txt(1075, 382 + i * 11, s, { fs: i === 2 ? 6.6 : 7.6 }));
legLine(1058, 1073, 428, "#2e75b6", 1.2, "1.5,1.5");
["Paralytic poliomyelitis", "incidence in the model,", "general population (n<1)"].forEach((s, i) => txt(1075, 431 + i * 11, s, { fs: 7.6 }));
ageTable(837, 327, 125, 81, [868, 890, 913, 939], [887, 911, 938, 961],
  [332, 339, 348, 358, 368, 378, 387, 396, 406], ageHeader.concat(nlTable), 5.6);
labelBox(1076, 458, 120, 52, ["Netherlands", "(WPV3)"], 20, 21, 26);

/* ================= Tajikistan ================= */
const pTj = panel([1, 41], [846.7, 846.7 + 40 * 8.708], [0, 100], [817, 565]);
plotBars(pTj, tjCases, 0.65);
plotLine(pTj, tjModel, "#ff0000", 2, null, d3.curveMonotoneX);
yAxis(pTj, 840, [0,10,20,30,40,50,60,70,80,90,100], d3.format("d"), 7.5);
xAxis(pTj, 817, tjWeeks, d3.format("d"), 7.5, 840, 1200);
minorTicks(pTj, 817, [2,4,6,8,10,12,14,16,18,20,22,24,26,28,30,32,34,36,38,40]);
yTitle(812, 693, "Incidence (cases/week)", 7.5);
txt(1020, 843, "Week since 1/1/2010", { fs: 7.5, anchor: "middle" });
ageTable(845, 572, 128, 73, [877, 900, 926, 953], [898, 925, 952, 972],
  [577, 586, 595, 606, 618, 630, 642], ageHeader.concat(tjTable), 6.4);
legBar(1038, 586, 12, 6);
txt(1052, 592, "Laboratory-confirmed cases", { fs: 7.8 });
txt(1052, 603, "(n=458)", { fs: 7.8 });
legLine(1038, 1050, 627, "#ff0000", 2);
["Paralytic poliomyelitis", "incidence in the model", "(n=481)"].forEach((s, i) => txt(1052, 629.5 + i * 11.5, s, { fs: 7.8 }));
txt(1002, 581, "mOPV1", { fs: 7.8, anchor: "middle" }); txt(1002, 590.5, "0-5 years", { fs: 7.8, anchor: "middle" });
arrow(992, 597, 992, 617); arrow(1012, 597, 1012, 617);
txt(1038, 734, "mOPV1", { fs: 7.8, anchor: "middle" }); txt(1038, 744, "0-14 years", { fs: 7.8, anchor: "middle" });
arrow(1030, 750, 1030, 770); arrow(1049, 750, 1049, 770);
txt(1175, 767, "tOPV1", { fs: 7.8, anchor: "middle" }); txt(1175, 777, "0-14 years", { fs: 7.8, anchor: "middle" });
arrow(1180, 783, 1180, 803); arrow(1186, 784, 1198, 798);
["Presumed", "virus", "introduction", "12/1/2009"].forEach((s, i) => txt(873, 739 + i * 11.3, s, { fs: 7.6, anchor: "middle" }));
arrow(872, 776, 818, 816);
labelBox(1073, 653, 127, 53, ["Tajikistan", "(WPV1)"], 20, 21, 26);

/* ================= Albania ================= */
const pAl = panel([1, 51], [843.3, 843.3 + 50 * 6.78], [0, 16], [1101.7, 852.7]);
plotBars(pAl, alCases, 0.69);
plotLine(pAl, alModel, "#ff0000", 2.2, null, d3.curveMonotoneX);
yAxis(pAl, 835, [0,2,4,6,8,10,12,14,16], d3.format("d"), 7.5);
xAxis(pAl, 1101.7, alWeeks, d3.format("d"), 7.5, 835, 1195);
minorTicks(pAl, 1101.7, [2,3,4,5,7,8,9,10,12,13,14,15,17,18,19,20,22,23,24,25,27,28,29,30,32,33,34,35,37,38,39,40,42,43,44,45,47,48,49,50,52]);
yTitle(810, 973, "Incidence (cases/week)", 7.5);
txt(1013, 1128, "Week since 1/1/1996", { fs: 7.5, anchor: "middle" });
legBar(842, 864, 10, 6);
txt(854, 869.5, "Reported paralytic poliomyelitis cases (n=138)", { fs: 7.4 });
legLine(842, 853, 892, "#ff0000", 2.2);
txt(855, 895, "Paralytic poliomyelitis incidence in the model (n=122)", { fs: 7.4 });
ageTable(847, 912, 153, 91, [888, 915, 942, 975], [908, 934, 973, 999],
  [920, 931, 944, 958, 973, 987, 1001], ageHeader.concat(alTable), 7.8);
txt(1135, 858, "tOPV 0-49 years", { fs: 7.8, anchor: "middle" });
arrow(1116, 866, 1116, 888); arrow(1154, 866, 1154, 888);
txt(956, 1033, "tOPV 0-4 years", { fs: 7.8, anchor: "middle" });
arrow(938, 1036, 938, 1062); arrow(971, 1036, 971, 1062);
["Presumed virus", "introduction", "2/19/1996"].forEach((s, i) => txt(893, 1053 + i * 10.8, s, { fs: 7.6, anchor: "middle" }));
arrow(893, 1081, 893, 1100);
labelBox(1121, 895, 79, 53, ["Albania", "(WPV1)"], 20, 23, 25);

/* ================= Haiti cVDPV1 ================= */
const pHt = panel([1, 104], [1236, 1236 + 103 * 3.363], [0, 10], [769, 514]);
plotBars(pHt, htCases, 0.8);
plotLine(pHt, htModel, "#ff0000", 2, null, d3.curveMonotoneX);
yAxis(pHt, 1233, [0,1,2,3,4,5,6,7,8,9,10], d3.format("d"), 7.5);
xAxis(pHt, 769, htWeeks, d3.format("d"), 7.2, 1233, 1582);
yTitle(1210, 640, "Incidence (cases/week)", 7.5);
txt(1410, 791, "Week since 1/1/2000", { fs: 7.5, anchor: "middle" });
legBar(1242, 523, 11, 5);
txt(1254, 528, "Confirmed VDPV cases (n=8) and", { fs: 7.3 });
txt(1254, 539, "polio-compatible AFP cases (n=2)", { fs: 7.3 });
legLine(1242, 1253, 569, "#ff0000", 2);
["Paralytic poliomyelitis incidence", "due to PV1 (all reversion stages)", "in the model (n=109)"].forEach((s, i) => txt(1254, 572 + i * 11.2, s, { fs: 7.3 }));
txt(1430, 517, "tOPV 0-4 years", { fs: 7.5, anchor: "middle" });
arrow(1422, 522, 1422, 543, { dash: "3,2" }); arrow(1441, 522, 1441, 543, { dash: "3,2" });
["Rolling tOPV", "campaigns", "0-9 years"].forEach((s, i) => txt(1509, 517 + i * 11, s, { fs: 7.5, anchor: "middle" }));
arrow(1477, 543, 1540, 543, { start: "dot" });
labelBox(1479, 583, 107, 53, ["Haiti", "(cVDPV1)"], 20, 22, 27);

/* ================= Madura ================= */
const pMd = panel([1, 53], [1236, 1236 + 52 * 6.847], [0, 10], [1102.7, 861.7]);
plotBars(pMd, mdCases, 0.68);
plotLine(pMd, mdModel, "#ff0000", 2.2, null, d3.curveMonotoneX);
yAxis(pMd, 1233, [0,1,2,3,4,5,6,7,8,9,10], d3.format("d"), 7.5);
xAxis(pMd, 1102.7, mdWeeks, d3.format("d"), 7.5, 1233, 1590);
minorTicks(pMd, 1102.7, [2,3,4,5,7,8,9,10,12,13,14,15,17,18,19,20,22,23,24,25,27,28,29,30,32,33,34,35,37,38,39,40,42,43,44,45,47,48,49,50,52]);
yTitle(1210, 980, "Incidence (cases/week)", 7.5);
txt(1410, 1128, "Week since 1/1/2005", { fs: 7.5, anchor: "middle" });
legBar(1237, 858, 11, 5);
txt(1249, 863, "Confirmed VDPV cases (n=45)", { fs: 7.3 });
legLine(1237, 1248, 892, "#ff0000", 2.2);
["Paralytic poliomyelitis incidence", "due to PV1 (all reversion stages)", "in the model (n=83)"].forEach((s, i) => txt(1250, 894.5 + i * 11.3, s, { fs: 7.3 }));
txt(1483, 857, "tOPV 0-4 years", { fs: 7.6, anchor: "middle" });
arrow(1470, 862, 1470, 885); arrow(1495, 862, 1495, 885);
txt(1557, 857, "mOPV1 0-4 years", { fs: 7.6, anchor: "middle" });
arrow(1559, 862, 1559, 885);
labelBox(1486, 914, 107, 53, ["Madura", "(cVDPV1)"], 20.5, 23, 26);
</script>
</body>
</html>
